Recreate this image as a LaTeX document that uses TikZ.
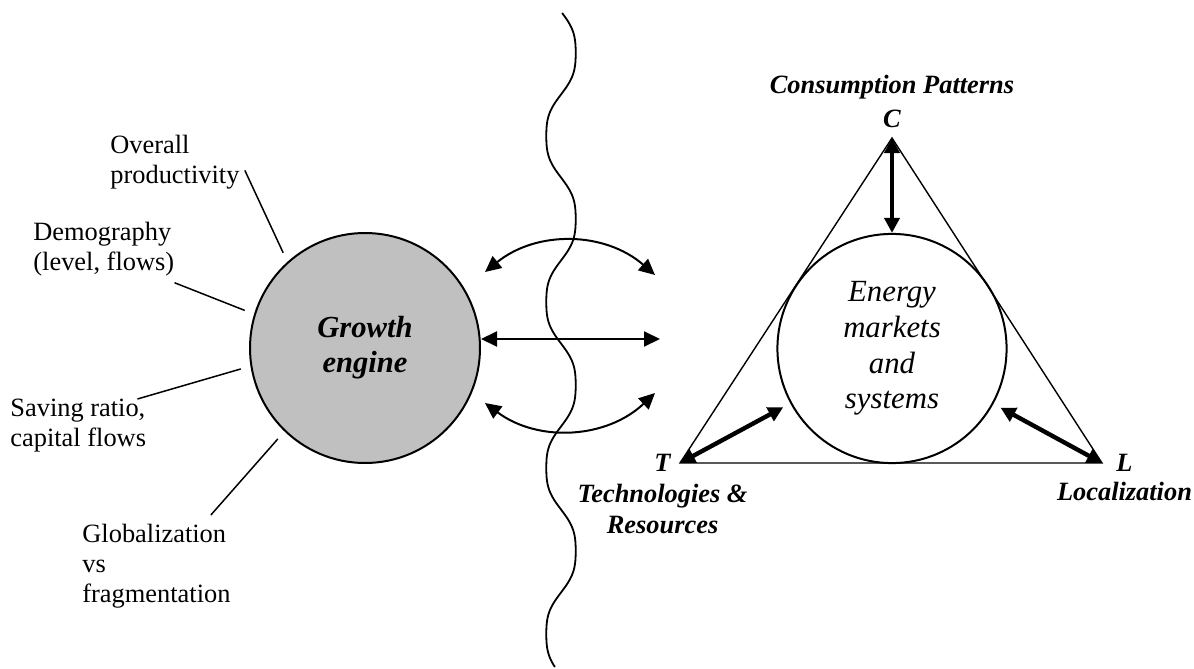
\documentclass[tikz,border=0pt]{standalone}
\usepackage{fontspec}
\setmainfont{Liberation Serif}
\usetikzlibrary{arrows.meta,positioning}
\definecolor{silver}{RGB}{192,192,192}

\begin{document}
\begin{tikzpicture}[x=0.5pt,y=-0.5pt,
  txt/.style={inner sep=0pt,align=left,anchor=north west,font=\fontsize{13.2}{15}\selectfont},
  tag/.style={inner sep=0pt,align=center,font=\fontsize{13.2}{15.3}\selectfont\bfseries\itshape},
  hub/.style={circle,draw,line width=1pt,inner sep=0pt,minimum size=#1,align=center},
  link/.style={line width=0.75pt,shorten >=5pt},
  dbl/.style={{Triangle[length=8pt,width=7.5pt]}-{Triangle[length=8pt,width=7.5pt]},line width=1pt},
  fat/.style={{Triangle[length=7.5pt,width=7.5pt]}-{Triangle[length=7.5pt,width=7.5pt]},line width=2.2pt}]
\useasboundingbox (0,0) rectangle (1194,669);
% growth engine and what drives it
\node[hub=115pt,fill=silver,font=\fontsize{15.3}{17.4}\selectfont\bfseries\itshape] (ge) at (365,348) {Growth\\engine};
\node[txt] (op) at (110,135) {Overall\\productivity};
\node[txt] (dg) at (33,222) {Demography\\(level, flows)};
\node[txt] (sv) at (10,399) {Saving ratio,\\capital flows};
\node[txt] (gl) at (82,524) {Globalization\\vs\\fragmentation};
\draw[link] ([shift={(2.5pt,-4pt)}]op.east) -- (ge.132);
\draw[link] ([yshift=-3pt]dg.south east) -- (ge.163);
\draw[link] ([xshift=-4.5pt]sv.north east) -- (ge.189);
\draw[link] ([shift={(-10pt,4.5pt)}]gl.north east) -- (ge.226);
% the wavy border
\draw[line width=0.9pt] plot[domain=13:667,samples=240,smooth]
  ({561+16*(sin((\x-53)/166*360+90)+0.08*sin(3*((\x-53)/166*360+90)))},\x);
% links across the border
\path (485,272) coordinate (u1)
      (655,275) coordinate (u2)
      (485,403) coordinate (d1)
      (655,393) coordinate (d2)
      (660,339) coordinate (m2);
\draw[dbl] (u1) to[bend left=40] (u2);
\draw[dbl] (d1) to[bend right=40] (d2);
\draw[dbl] ([yshift=4.5pt]ge.east) -- (m2);
% energy triangle
\path (892,138) coordinate (C)
      (680,463) coordinate (T)
      (1102,463) coordinate (L);
\draw[line width=0.7pt] (C) -- (T) -- (L) -- cycle;
\node[hub=114.6pt,font=\fontsize{15.4}{17.8}\selectfont\itshape] (ems) at (892,348.5) {Energy\\markets\\and\\systems};
\draw[fat] (C) -- (ems);
\draw[fat,shorten >=4pt] (T) -- (ems);
\draw[fat,shorten >=4pt] (L) -- (ems);
\node[tag,above=5pt of C] (cl) {C};
\node[tag,above=5pt of cl] (cp) {Consumption Patterns};
\node[tag,left=4.5pt of T] (tl) {T};
\node[tag,below=6pt of tl] (tr) {Technologies \&\\Resources};
\node[tag,right=7pt of L] (ll) {L};
\node[tag,below=5pt of ll] (lr) {Localization};
\end{tikzpicture}
\end{document}
